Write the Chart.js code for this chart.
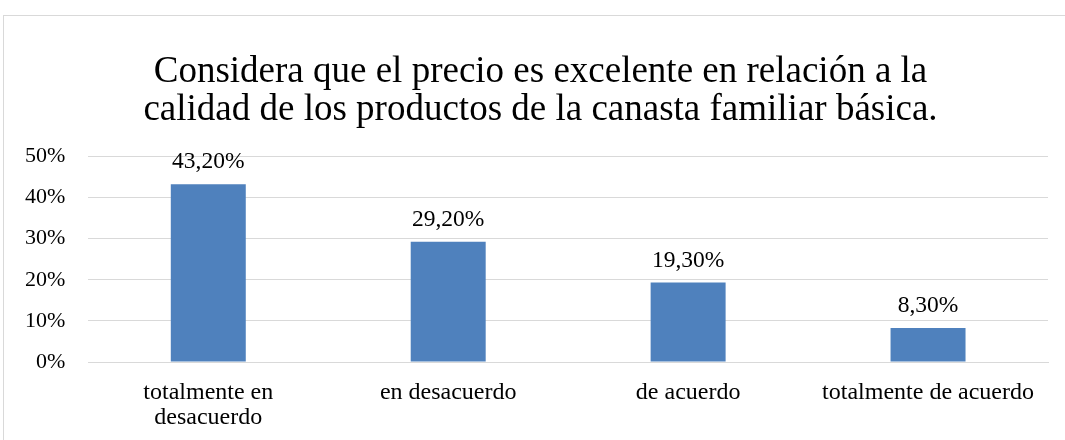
<!DOCTYPE html>
<html>
<head>
<meta charset="utf-8">
<script src="https://cdn.jsdelivr.net/npm/chart.js@4"></script>
<style>
  body { margin: 0; background: #fff; }
  #wrap { position: relative; width: 1065px; height: 440px; overflow: hidden; }
  #frame { position: absolute; left: 3px; top: 15px; width: 1080px; height: 460px; border: 1px solid #d9d9d9; box-sizing: border-box; }
  canvas { position: absolute; left: 0; top: 0; }
</style>
</head>
<body>
<div id="wrap">
  <div id="frame"></div>
  <canvas id="chart" width="1065" height="440"></canvas>
</div>
<script>
const categories = ['totalmente en desacuerdo', 'en desacuerdo', 'de acuerdo', 'totalmente de acuerdo'];
const tickLabels = [['totalmente en', 'desacuerdo'], 'en desacuerdo', 'de acuerdo', 'totalmente de acuerdo'];
const values = [43.2, 29.2, 19.3, 8.3];
const titleLines = ['Considera que el precio es excelente en relación a la', 'calidad de los productos de la canasta familiar básica.'];

const serif = '"Liberation Serif", "Times New Roman", serif';
const titleSize = 37, titleLH = 1.03;

const barLabels = {
    id: 'barLabels',
    afterDatasetsDraw(chart) {
        const ctx = chart.ctx;
        ctx.save();
        ctx.font = '23.5px ' + serif;
        ctx.fillStyle = '#000';
        ctx.textAlign = 'center';
        ctx.textBaseline = 'alphabetic';
        chart.getDatasetMeta(0).data.forEach((bar, i) => {
            const txt = values[i].toFixed(2).replace('.', ',') + '%';
            ctx.fillText(txt, bar.x, bar.y - 16);
        });
        ctx.restore();
    }
};

// title space is reserved by the built-in title, text drawn here a bit right of centre
const titleText = {
    id: 'titleText',
    afterDraw(chart) {
        const tb = chart.titleBlock;
        const ctx = chart.ctx;
        const lh = titleSize * titleLH;
        ctx.save();
        ctx.font = titleSize + 'px ' + serif;
        ctx.fillStyle = '#000';
        ctx.textAlign = 'center';
        ctx.textBaseline = 'middle';
        titleLines.forEach((t, i) => {
            ctx.fillText(t, chart.width / 2 + 8, tb.top + lh / 2 + i * lh);
        });
        ctx.restore();
    }
};

function init() {
    const ctx = document.getElementById('chart').getContext('2d');
    new Chart(ctx, {
        type: 'bar',
        data: {
            labels: tickLabels,
            datasets: [{
                label: 'valores',
                data: values,
                backgroundColor: '#4f81bd',
                borderWidth: 0,
                categoryPercentage: 0.625,
                barPercentage: 0.5
            }]
        },
        options: {
            responsive: false,
            animation: false,
            layout: { padding: { left: 2, right: 17, top: 53, bottom: -8 } },
            plugins: {
                legend: { display: false },
                tooltip: { enabled: false },
                title: {
                    display: true,
                    text: titleLines,
                    color: 'rgba(0,0,0,0)',
                    font: { family: serif, size: titleSize, weight: 'normal', lineHeight: titleLH },
                    padding: { top: 0, bottom: 27 }
                }
            },
            scales: {
                x: {
                    grid: { display: false, drawTicks: false },
                    border: { display: true, color: '#d9d9d9', width: 1 },
                    ticks: {
                        color: '#000',
                        padding: 18,
                        maxRotation: 0,
                        font: { family: serif, size: 24, lineHeight: 1.04 }
                    }
                },
                y: {
                    min: 0,
                    max: 50,
                    grid: { color: '#d9d9d9', drawTicks: false },
                    border: { display: false },
                    ticks: {
                        stepSize: 10,
                        color: '#000',
                        padding: 23,
                        font: { family: serif, size: 22 },
                        callback: v => v + '%'
                    }
                }
            }
        },
        plugins: [barLabels, titleText]
    });
}
init();
</script>
</body>
</html>
